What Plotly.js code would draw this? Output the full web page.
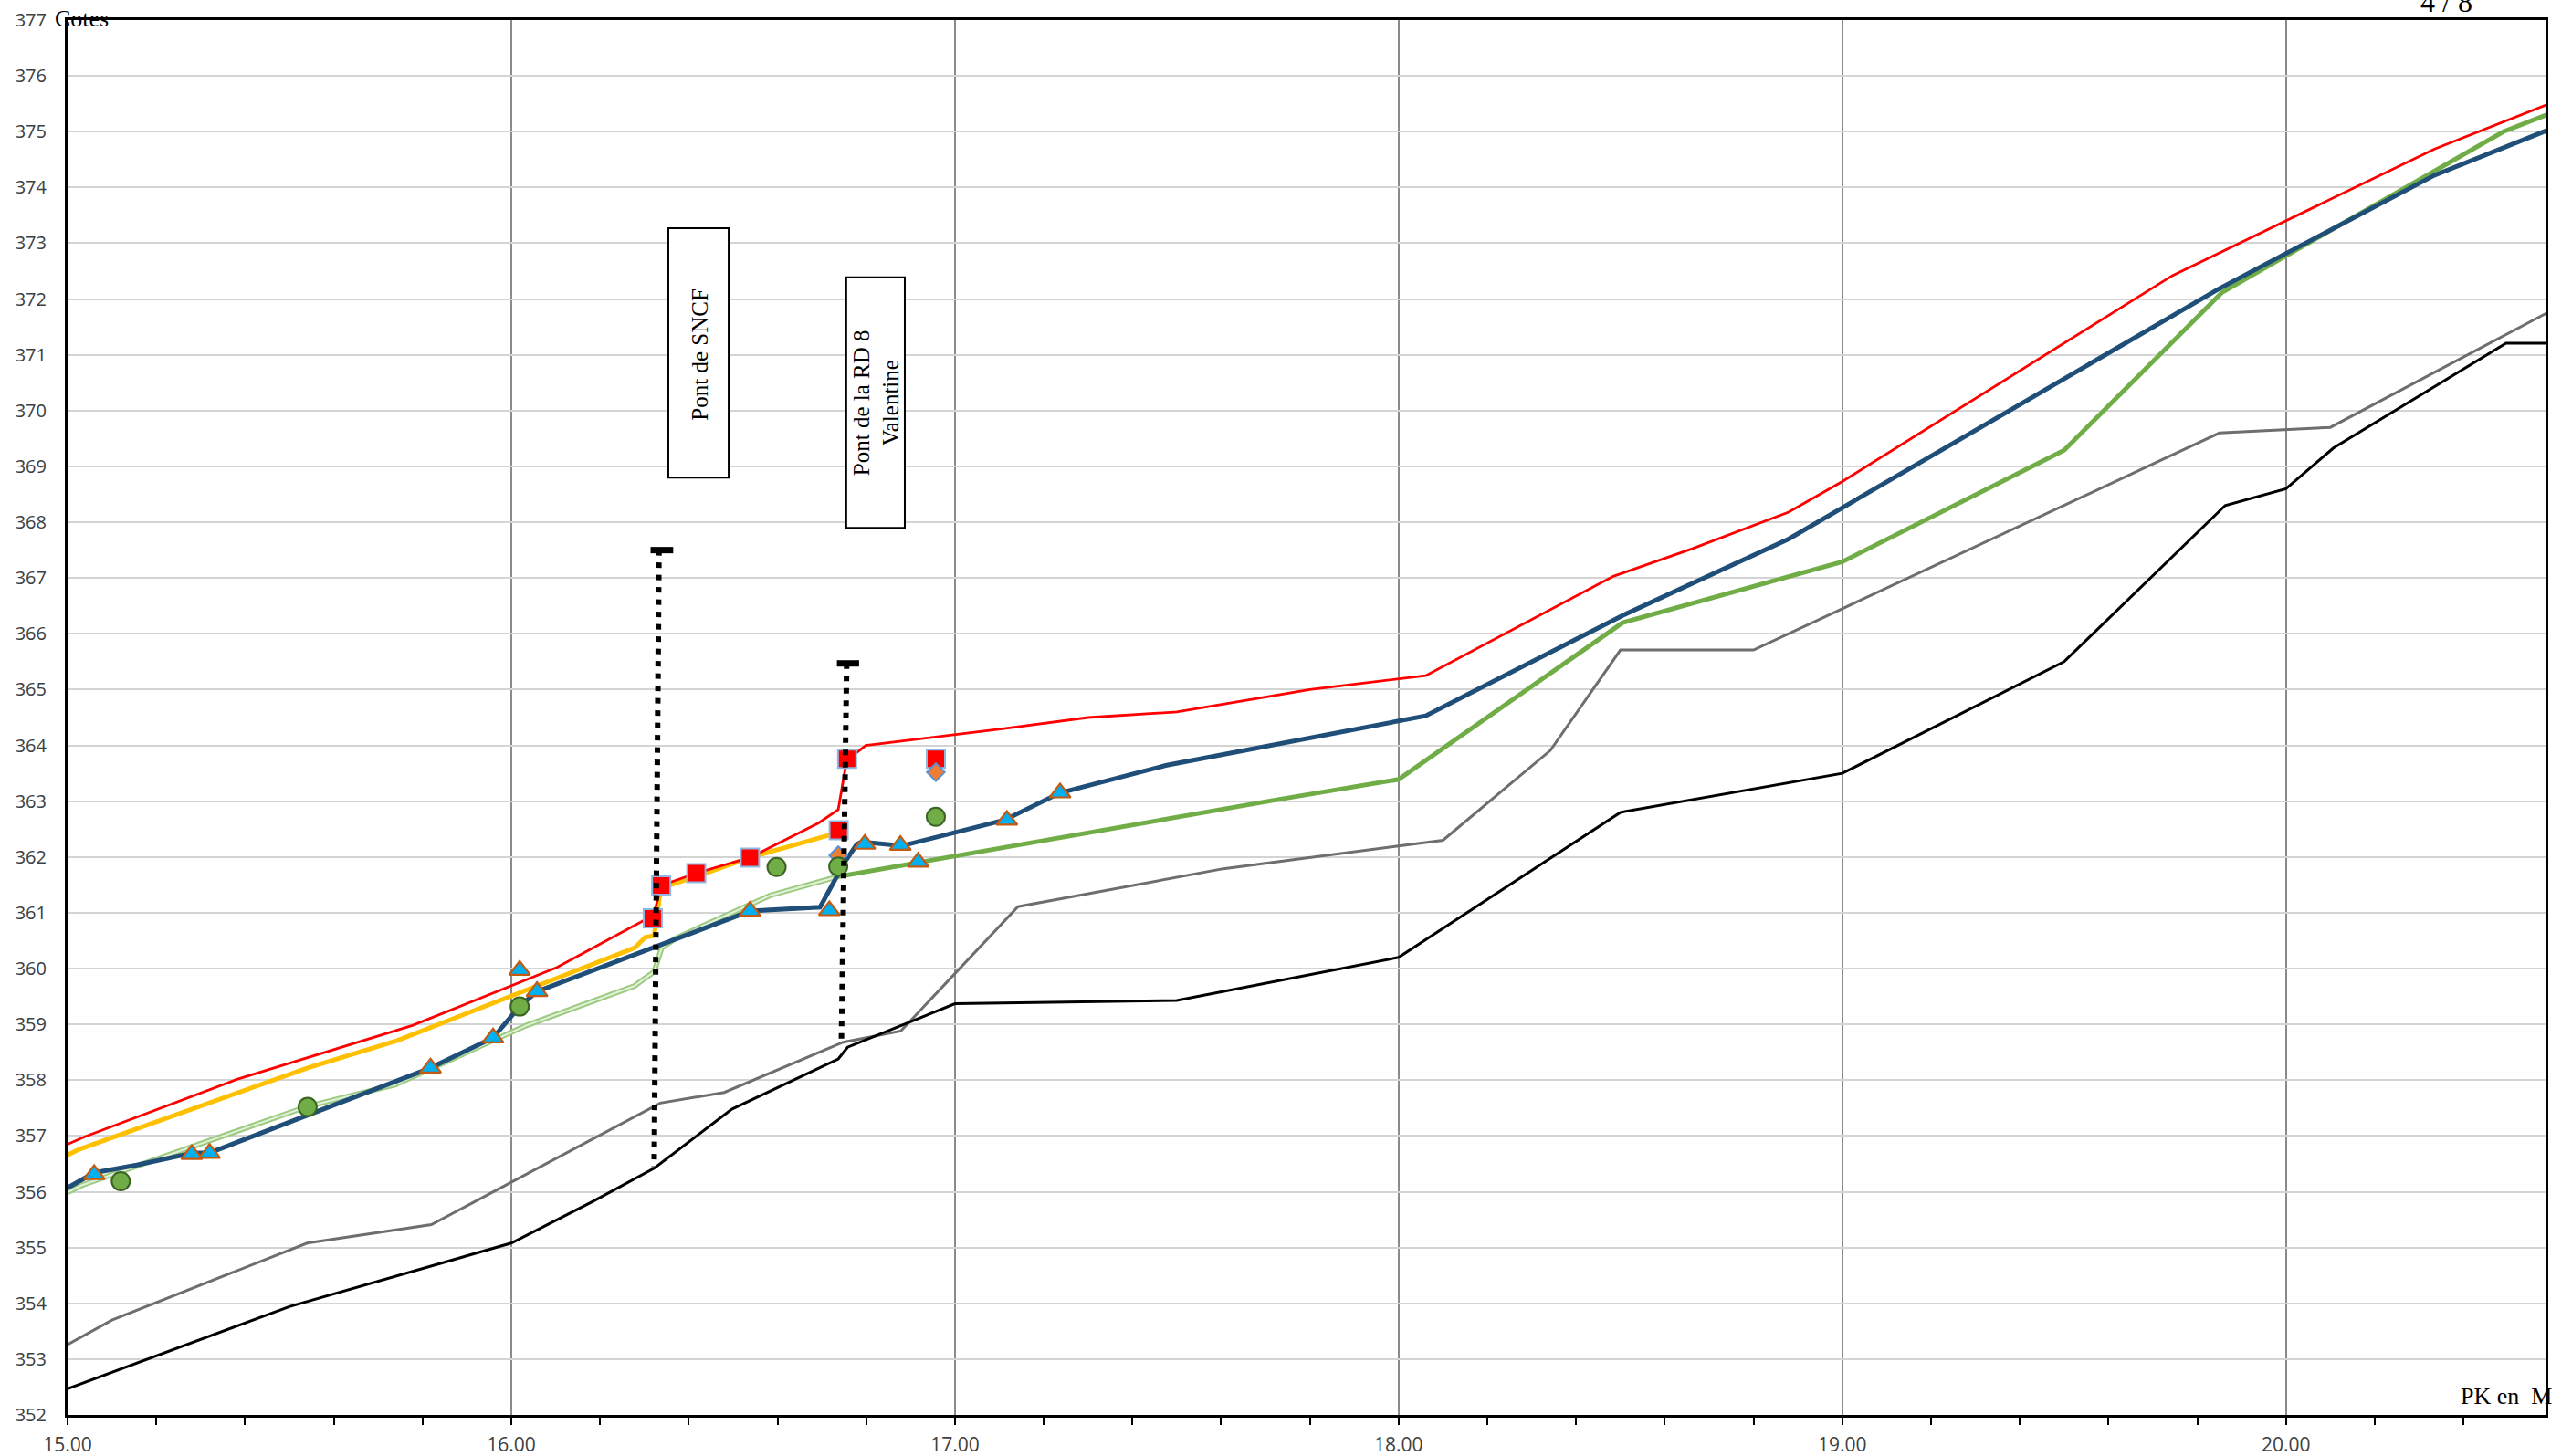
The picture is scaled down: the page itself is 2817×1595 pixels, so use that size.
<!DOCTYPE html>
<html>
<head>
<meta charset="utf-8">
<script src="https://cdn.plot.ly/plotly-3.0.1.min.js"></script>
<style>html,body{margin:0;padding:0;background:#fff;}#chart{width:2817px;height:1595px;}</style>
</head>
<body>
<div id="chart"></div>
<script>
// ---- Data (PK in km, cotes in m) ----
const redX = [15.0, 15.04, 15.38, 15.777, 16.103, 16.298, 16.319, 16.338, 16.417, 16.538, 16.693, 16.737, 16.756, 16.799, 17.111, 17.3, 17.5, 17.8, 18.061, 18.484, 18.663, 18.879, 19.0, 19.744, 20.335, 20.6];
const redY = [356.85, 356.99, 358.01, 358.98, 360.02, 360.86, 360.9, 361.49, 361.71, 361.99, 362.61, 362.85, 363.73, 364.0, 364.3, 364.5, 364.6, 365.0, 365.25, 367.03, 367.53, 368.18, 368.73, 372.42, 374.69, 375.52];

const yellowX = [15.0, 15.026, 15.541, 15.743, 16.278, 16.302, 16.322, 16.336, 16.34, 16.417, 16.538, 16.72];
const yellowY = [356.66, 356.76, 358.22, 358.71, 360.37, 360.56, 360.59, 361.38, 361.45, 361.65, 361.99, 362.4];

const blueX = [15.0, 15.06, 15.156, 15.28, 15.321, 15.534, 15.736, 15.818, 15.959, 16.019, 16.058, 16.37, 16.538, 16.696, 16.751, 16.779, 16.79, 16.88, 17.111, 17.237, 17.475, 18.061, 18.505, 18.879, 19.848, 20.335, 20.6];
const blueY = [356.07, 356.34, 356.48, 356.69, 356.70, 357.35, 357.97, 358.22, 358.76, 359.32, 359.59, 360.54, 361.03, 361.10, 361.9, 362.23, 362.27, 362.2, 362.66, 363.15, 363.64, 364.53, 366.33, 367.7, 372.18, 374.22, 375.06];

const lightGreenX = [15.0, 15.033, 15.541, 15.739, 16.034, 16.278, 16.302, 16.322, 16.339, 16.37, 16.583, 16.737];
const lightGreenY = [355.99, 356.12, 357.53, 357.92, 358.98, 359.69, 359.83, 359.94, 360.37, 360.54, 361.31, 361.65];

const greenX = [16.737, 16.917, 17.111, 17.728, 18.0, 18.505, 19.0, 19.5, 19.856, 20.49, 20.6];
const greenY = [361.65, 361.91, 362.17, 363.03, 363.39, 366.2, 367.29, 369.29, 372.12, 375.0, 375.34];

const grayX = [15.0, 15.1, 15.54, 15.82, 16.336, 16.48, 16.748, 16.878, 17.142, 17.605, 18.1, 18.342, 18.5, 18.8, 19.0, 19.85, 20.1, 20.6];
const grayY = [353.26, 353.7, 355.08, 355.41, 357.59, 357.78, 358.68, 358.88, 361.11, 361.79, 362.30, 363.91, 365.71, 365.71, 366.45, 369.6, 369.7, 371.8];

const blackX = [15.0, 15.5, 16.0, 16.185, 16.322, 16.497, 16.737, 16.758, 17.0, 17.5, 18.0, 18.5, 19.0, 19.5, 19.863, 20.0, 20.107, 20.496, 20.6];
const blackY = [352.47, 353.94, 355.08, 355.83, 356.42, 357.48, 358.38, 358.59, 359.37, 359.43, 360.2, 362.8, 363.5, 365.5, 368.3, 368.6, 369.33, 371.21, 371.21];

const triX = [15.06, 15.28, 15.32, 15.818, 15.959, 16.019, 16.058, 16.538, 16.717, 16.797, 16.877, 16.917, 17.117, 17.237];
const triY = [356.31, 356.67, 356.69, 358.22, 358.76, 359.97, 359.59, 361.03, 361.04, 362.23, 362.21, 361.91, 362.66, 363.15];

const circX = [15.12, 15.541, 16.019, 16.598, 16.737, 16.957];
const circY = [356.19, 357.52, 359.32, 361.82, 361.83, 362.72];

const sqX = [16.319, 16.338, 16.417, 16.538, 16.738, 16.757, 16.957];
const sqY = [360.9, 361.49, 361.71, 361.99, 362.48, 363.76, 363.76];

const diaX = [16.737, 16.957];
const diaY = [362.03, 363.52];

const bridge1X = [16.333, 16.322];
const bridge1Y = [367.5, 356.44];
const bridge1CapX = [16.314, 16.365];
const bridge1CapY = [367.5, 367.5];
const bridge2X = [16.756, 16.744];
const bridge2Y = [365.47, 358.63];
const bridge2CapX = [16.734, 16.784];
const bridge2CapY = [365.47, 365.47];

const bridgeLabels = ['Pont de SNCF', 'Pont de la RD 8<br>Valentine'];

function line(x, y, color, width, dash) {
  return {x: x, y: y, type: 'scatter', mode: 'lines', hoverinfo: 'skip',
          line: {color: color, width: width, dash: dash || 'solid'}};
}
function markers(x, y, symbol, size, fill, outline, ow) {
  return {x: x, y: y, type: 'scatter', mode: 'markers', hoverinfo: 'skip',
          marker: {symbol: symbol, size: size, color: fill, line: {color: outline, width: ow}}};
}

const traces = [
  line(grayX, grayY, '#6e6e6e', 3),
  line(blackX, blackY, '#000000', 3),
  line(lightGreenX, lightGreenY, '#9ccb80', 6),
  line(lightGreenX, lightGreenY, '#e2f0d9', 2),
  line(greenX, greenY, '#70ad47', 5),
  line(yellowX, yellowY, '#ffc000', 5),
  line(blueX, blueY, '#1f4e79', 5),
  line(redX, redY, '#ff0000', 2.8),
  markers(sqX, sqY, 'square', 20, '#ff0000', '#8fb9e3', 2),
  markers(diaX, diaY, 'diamond', 15, '#ed7d31', '#5b8fd6', 2),
  markers(circX, circY, 'circle', 20, '#70ad47', '#3b6324', 2),
  markers(triX, triY, 'triangle-up', 20, '#00b0f0', '#c55a11', 2.2),
  line(bridge1X, bridge1Y, '#000000', 6, '6px,7.5px'),
  line(bridge2X, bridge2Y, '#000000', 6, '6px,7.5px'),
  line(bridge1CapX, bridge1CapY, '#000000', 7),
  line(bridge2CapX, bridge2CapY, '#000000', 7)
];

const serif = 'Liberation Serif, DejaVu Serif, serif';

const layout = {
  width: 2817, height: 1595,
  margin: {l: 74, r: 29, t: 22, b: 45, pad: 0},
  paper_bgcolor: '#ffffff', plot_bgcolor: '#ffffff',
  showlegend: false,
  xaxis: {
    range: [15, 20.585], dtick: 1, tick0: 15, tickformat: '.2f',
    showgrid: true, gridcolor: '#8a8a8a', gridwidth: 2,
    zeroline: false, showline: true, linecolor: '#000000', linewidth: 3, mirror: true,
    ticks: 'outside', ticklen: 8, tickwidth: 2, tickcolor: '#000000',
    minor: {dtick: 0.2, ticks: 'outside', ticklen: 8, tickwidth: 2, tickcolor: '#000000', showgrid: false},
    ticklabelstandoff: 4,
    tickfont: {family: 'Open Sans, sans-serif', size: 21, color: '#404040'}
  },
  yaxis: {
    range: [352, 377], dtick: 1, tick0: 352,
    showgrid: true, gridcolor: '#d4d4d4', gridwidth: 2,
    zeroline: false, showline: true, linecolor: '#000000', linewidth: 3, mirror: true,
    ticks: '', ticklabelstandoff: 16,
    tickfont: {family: 'Open Sans, sans-serif', size: 20, color: '#404040'}
  },
  shapes: [
    {type: 'rect', xref: 'x', yref: 'y', x0: 16.354, x1: 16.49, y0: 368.80, y1: 373.27,
     line: {color: '#000000', width: 2}, fillcolor: '#ffffff', layer: 'above'},
    {type: 'rect', xref: 'x', yref: 'y', x0: 16.755, x1: 16.887, y0: 367.9, y1: 372.39,
     line: {color: '#000000', width: 2}, fillcolor: '#ffffff', layer: 'above'}
  ],
  annotations: [
    {xref: 'x', yref: 'y', x: 16.426, y: 371.0, text: bridgeLabels[0], textangle: -90, showarrow: false,
     font: {family: serif, size: 25, color: '#000000'}},
    {xref: 'x', yref: 'y', x: 16.823, y: 370.14, text: bridgeLabels[1], textangle: -90, showarrow: false,
     font: {family: serif, size: 25, color: '#000000'}},
    {xref: 'paper', yref: 'paper', x: -0.006, y: 1.0013, xanchor: 'left', yanchor: 'middle',
     text: 'Cotes', showarrow: false, font: {family: serif, size: 26, color: '#000000'}},
    {xref: 'paper', yref: 'paper', x: 1.0033, y: 0.0131, xanchor: 'right', yanchor: 'middle',
     text: 'PK en\u00a0\u00a0M', showarrow: false, font: {family: serif, size: 26, color: '#000000'}},
    {xref: 'paper', yref: 'paper', x: 0.9602, y: 1.0134, xanchor: 'center', yanchor: 'middle',
     text: '4 / 8', showarrow: false, font: {family: serif, size: 32, color: '#000000'}}
  ]
};

Plotly.newPlot('chart', traces, layout, {staticPlot: true, displayModeBar: false});
</script>
</body>
</html>
